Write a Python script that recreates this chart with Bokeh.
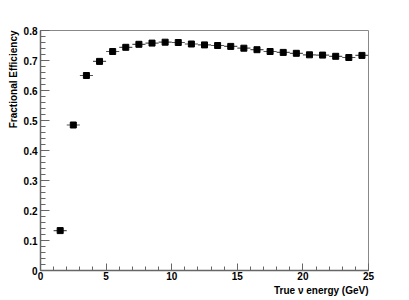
from bokeh.plotting import figure
from bokeh.models import Range1d, FixedTicker, ColumnDataSource, Title
from bokeh.embed import file_html
from bokeh.resources import INLINE

energy = [1.5, 2.5, 3.5, 4.5, 5.5, 6.5, 7.5, 8.5, 9.5, 10.5, 11.5, 12.5,
          13.5, 14.5, 15.5, 16.5, 17.5, 18.5, 19.5, 20.5, 21.5, 22.5, 23.5, 24.5]
efficiency = [0.133, 0.485, 0.650, 0.697, 0.730, 0.744, 0.754, 0.758, 0.761, 0.760,
              0.755, 0.752, 0.750, 0.747, 0.741, 0.736, 0.730, 0.727, 0.724, 0.719,
              0.718, 0.714, 0.710, 0.717]
bin_half_width = 0.5
x_ticks = [0, 5, 10, 15, 20, 25]
y_ticks = [0, 0.1, 0.2, 0.3, 0.4, 0.5, 0.6, 0.7, 0.8]
y_tick_labels = ["0", "0.1", "0.2", "0.3", "0.4", "0.5", "0.6", "0.7", "0.8"]
x_title = "True \u03bd energy (GeV)"
y_title = "Fractional Efficiency"

p = figure(width=409, height=300, output_backend="svg", toolbar_location=None,
           min_border_left=40, min_border_right=41, min_border_top=30, min_border_bottom=30,
           x_range=Range1d(0, 25), y_range=Range1d(0, 0.8))
p.grid.visible = False
p.outline_line_color = "#888888"
p.outline_line_width = 1
p.background_fill_color = "white"
p.border_fill_color = "white"

src = ColumnDataSource(dict(
    x=energy, y=efficiency,
    x0=[e - bin_half_width for e in energy],
    x1=[e + bin_half_width for e in energy]))
p.segment(x0="x0", y0="y", x1="x1", y1="y", source=src, line_color="#555555", line_width=1.2)
p.scatter(x="x", y="y", source=src, marker="square", size=6, fill_color="black", line_color="black")

font = "Liberation Sans"
for ax in (p.xaxis[0], p.yaxis[0]):
    ax.axis_line_color = "#666666"
    ax.axis_line_width = 1.5
    ax.major_tick_line_color = "#666666"
    ax.minor_tick_line_color = "#666666"
    ax.major_tick_out = 0
    ax.minor_tick_out = 0
    ax.major_label_text_font = font
    ax.major_label_text_font_style = "bold"
    ax.major_label_text_font_size = "10px"
    ax.major_label_text_color = "black"

p.xaxis[0].ticker = FixedTicker(ticks=x_ticks, minor_ticks=list(range(0, 26)))
p.xaxis[0].major_tick_in = 7
p.xaxis[0].minor_tick_in = 4
p.xaxis[0].major_label_standoff = 1

p.yaxis[0].ticker = FixedTicker(ticks=y_ticks, minor_ticks=[i * 0.02 for i in range(41)])
p.yaxis[0].major_label_overrides = {t: l for t, l in zip(y_ticks, y_tick_labels)}
p.yaxis[0].major_tick_in = 9
p.yaxis[0].minor_tick_in = 5
p.yaxis[0].major_label_standoff = 3

p.add_layout(Title(text=x_title, align="right", text_font=font, text_font_style="bold",
                   text_font_size="10px", text_color="black", standoff=0), "below")
p.add_layout(Title(text=y_title, align="right", text_font=font, text_font_style="bold",
                   text_font_size="10px", text_color="black", standoff=4), "left")

open("out.html", "w").write(file_html(p, INLINE))
